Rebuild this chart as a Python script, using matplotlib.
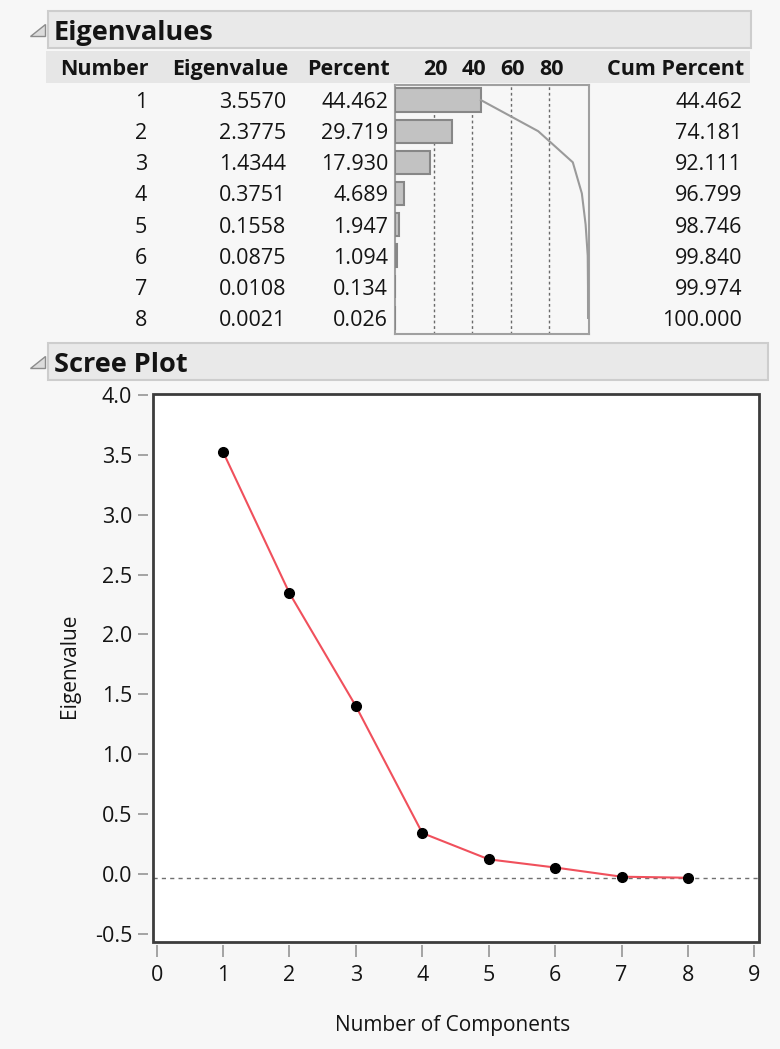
import numpy as np
import matplotlib
matplotlib.use("Agg")
import matplotlib.pyplot as plt
from matplotlib.patches import Rectangle, Polygon

plt.rcParams['font.family'] = ['Open Sans', 'DejaVu Sans']

# data
numbers = [1, 2, 3, 4, 5, 6, 7, 8]
eigenvalues = [3.5570, 2.3775, 1.4344, 0.3751, 0.1558, 0.0875, 0.0108, 0.0021]
percent = [44.462, 29.719, 17.930, 4.689, 1.947, 1.094, 0.134, 0.026]
cum_percent = [44.462, 74.181, 92.111, 96.799, 98.746, 99.840, 99.974, 100.000]
col_headers = ["Number", "Eigenvalue", "Percent", "Cum Percent"]
pct_ticks = [20, 40, 60, 80]
y_ticks = [-0.5, 0.0, 0.5, 1.0, 1.5, 2.0, 2.5, 3.0, 3.5, 4.0]
x_ticks = [0, 1, 2, 3, 4, 5, 6, 7, 8, 9]

W, H = 780, 1049
BG = '#f7f7f7'
TXT = '#141414'
FS = 15.5

fig = plt.figure(figsize=(W / 100, H / 100), dpi=100, facecolor=BG)


def px_axes(x0, y0, x1, y1):
    return fig.add_axes([x0 / W, 1 - y1 / H, (x1 - x0) / W, (y1 - y0) / H])


# overlay in pixel coordinates for the report frames
bg = px_axes(0, 0, W, H)
bg.set_xlim(0, W)
bg.set_ylim(H, 0)
bg.axis('off')


def header(x0, y0, x1, y1, title):
    bg.add_patch(Rectangle((x0, y0), x1 - x0, y1 - y0, facecolor='#e9e9e9',
                           edgecolor='#cdcdcd', lw=1.5))
    yc = (y0 + y1) / 2
    bg.add_patch(Polygon([(45, yc - 6), (45, yc + 6), (30, yc + 6)], closed=True,
                         facecolor='#dcdcdc', edgecolor='#8c8c8c', lw=1))
    bg.text(x0 + 6, yc, title, fontsize=19.5, fontweight='bold', color=TXT,
            va='center_baseline', ha='left')


header(48, 11, 751, 48, "Eigenvalues")
header(48, 343, 768, 380, "Scree Plot")
bg.add_patch(Rectangle((46, 51), 704, 32, facecolor='#e6e6e6', edgecolor='none'))

# table text: x in pixels, y in rows
tab = px_axes(0, 84.5, W, 333.5)
tab.set_xlim(0, W)
tab.set_ylim(8.5, 0.5)
tab.axis('off')
col_right = [149, 288, 390, 744]
for x, lab in zip(col_right, col_headers):
    tab.text(x, -0.05, lab, ha='right', va='center_baseline', fontsize=FS,
             fontweight='bold', color=TXT, clip_on=False)
for i, n in enumerate(numbers):
    row = [str(n), f"{eigenvalues[i]:.4f}", f"{percent[i]:.3f}", f"{cum_percent[i]:.3f}"]
    for x, s in zip(col_right, row):
        tab.text(x - 2, n, s, ha='right', va='center_baseline', fontsize=FS, color=TXT)

# percent bars with cumulative line
bar = px_axes(395, 84.5, 589, 333.5)
bar.set_facecolor(BG)
bar.set_xlim(0, 100.5)
bar.set_ylim(8.5, 0.5)
for v in pct_ticks:
    bar.axvline(v, color='#6a6a6a', lw=1, ls=(0, (2, 2)), zorder=1)
    bar.text(v + 1, -0.05, str(v), ha='center', va='center_baseline', fontsize=FS,
             fontweight='bold', color=TXT, clip_on=False)
bar.barh(numbers, percent, height=0.75, color='#c2c2c2', edgecolor='#878787',
         lw=1.5, zorder=3)
bar.plot(cum_percent, numbers, color='#9a9a9a', lw=1.5, zorder=4)
bar.set_xticks([])
bar.set_yticks([])
for sp in bar.spines.values():
    sp.set_color('#a0a0a0')
    sp.set_linewidth(1.5)

# scree plot
ax = px_axes(153, 394, 759, 942)
x_zero, x_step = 156.6, 66.43
y_zero, y_step = 878.0, 119.8
ax.set_xlim((153 - x_zero) / x_step, (759 - x_zero) / x_step)
ax.set_ylim((y_zero - 942) / y_step, (y_zero - 394) / y_step)
ax.set_facecolor('white')

ax.axhline(0, color='#707070', lw=1, ls=(0, (3, 3)), zorder=1)
ax.plot(numbers, eigenvalues, color='#f0505c', lw=1.5, zorder=2)
ax.plot(numbers, eigenvalues, 'o', color='black', ms=7, zorder=3)

# tick labels in the reference sit a little above the data grid
label_shift = 0.033
ax.set_yticks(np.array(y_ticks) + label_shift)
ax.set_yticklabels([f"{v:.1f}" for v in y_ticks])
ax.set_xticks(x_ticks)
ax.set_xticklabels([str(v) for v in x_ticks])

ax.spines['left'].set_position(('outward', 3.6))
ax.spines['bottom'].set_position(('outward', 2.2))
for sp in ax.spines.values():
    sp.set_color('none')
ax.add_patch(Rectangle((0, 0), 1, 1, transform=ax.transAxes, fill=False,
                       edgecolor='#3c3c3c', lw=2, clip_on=False, zorder=10))
ax.tick_params(axis='y', length=7.2, width=1.1, color='#8c8c8c', pad=4.3,
               labelsize=FS, labelcolor=TXT)
ax.tick_params(axis='x', length=8.6, width=1.1, color='#8c8c8c', pad=6,
               labelsize=FS, labelcolor=TXT)

ax.set_ylabel("Eigenvalue", fontsize=15, color=TXT)
ax.yaxis.set_label_coords(-0.121, 0.505)
ax.set_xlabel("Number of Components", fontsize=15, color=TXT)
ax.xaxis.set_label_coords(0.495, -0.133)

fig.savefig("out.png", dpi=100, facecolor=BG)
